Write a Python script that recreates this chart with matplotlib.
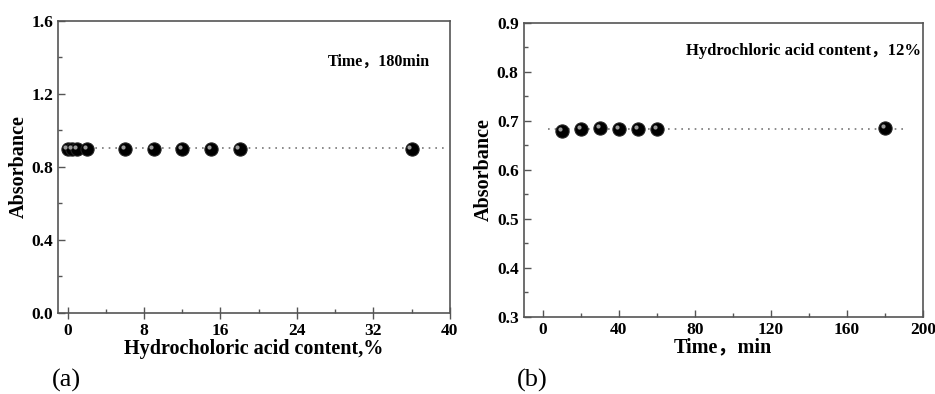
import matplotlib
matplotlib.use("Agg")
import matplotlib.pyplot as plt
import matplotlib.transforms as mtransforms
import numpy as np

# (a) absorbance vs HCl content, time 180 min
hcl_content = [0, 0.5, 1, 2, 6, 9, 12, 15, 18, 36]
absorb_a = [0.90, 0.90, 0.90, 0.90, 0.90, 0.90, 0.90, 0.90, 0.90, 0.90]
ref_a = 0.905
xticks_a = [0, 8, 16, 24, 32, 40]
yticks_a = [0.0, 0.4, 0.8, 1.2, 1.6]

# (b) absorbance vs time, HCl content 12%
time_min = [10, 20, 30, 40, 50, 60, 180]
absorb_b = [0.680, 0.684, 0.685, 0.684, 0.684, 0.684, 0.685]
ref_b = 0.684
xticks_b = [0, 40, 80, 120, 160, 200]
yticks_b = [0.3, 0.4, 0.5, 0.6, 0.7, 0.8, 0.9]

serif = ['Liberation Serif', 'Noto Sans CJK SC']
plt.rcParams['font.family'] = serif
plt.rcParams['font.weight'] = 'bold'

fig = plt.figure(figsize=(9.35, 3.94), dpi=100)
ax1 = fig.add_axes([0.062, 0.206, 0.419, 0.741])
ax2 = fig.add_axes([0.560, 0.196, 0.427, 0.746])


def spheres(ax, x, y):
    ax.plot(x, y, 'o', ms=9.5, mfc='black', mec='#222222', mew=0.8, zorder=3)
    off = mtransforms.ScaledTranslation(-1.5 / 72, 1.5 / 72, fig.dpi_scale_trans)
    ax.plot(x, y, 'o', ms=3, mfc='#9a9a9a', mec='none', zorder=4,
            transform=ax.transData + off)


def style(ax):
    for s in ax.spines.values():
        s.set_color('#555555')
        s.set_linewidth(1.2)
    ax.tick_params(which='both', direction='in', colors='#555555',
                   labelcolor='black', labelsize=12.5)
    ax.tick_params(which='major', length=5, width=1)
    ax.tick_params(which='minor', length=3, width=1)


# panel a
ax1.axhline(ref_a, xmin=0.01, xmax=0.985, color='#777777', ls=(0, (1, 3)), lw=1.2)
spheres(ax1, hcl_content, absorb_a)
ax1.set_xlim(-1, 40)
ax1.set_ylim(0.0, 1.6)
ax1.set_xticks(xticks_a)
ax1.set_yticks(yticks_a)
ax1.set_yticklabels([f'{v:.1f}' for v in yticks_a])
ax1.set_xticks(np.array(xticks_a[:-1]) + 4, minor=True)
ax1.set_yticks(np.array(yticks_a[:-1]) + 0.2, minor=True)
style(ax1)
ax1.tick_params(axis='x', which='major', direction='inout', length=8)
ax1.set_xlabel('Hydrocholoric acid content,%', fontsize=14.5, fontweight='bold', labelpad=0)
ax1.set_ylabel('Absorbance', fontsize=14.5, fontweight='bold', labelpad=2)
ax1.text(0.95, 0.86, 'Time，180min', transform=ax1.transAxes, ha='right', va='center',
         fontsize=11.5, fontweight='bold', family=serif)

# panel b
ax2.axhline(ref_b, xmin=0.06, xmax=0.953, color='#777777', ls=(0, (1, 3)), lw=1.2)
spheres(ax2, time_min, absorb_b)
ax2.set_xlim(-10, 200)
ax2.set_ylim(0.3, 0.9)
ax2.set_xticks(xticks_b)
ax2.set_yticks(yticks_b)
ax2.set_yticklabels([f'{v:.1f}' for v in yticks_b])
ax2.set_xticks(np.array(xticks_b[:-1]) + 20, minor=True)
ax2.set_yticks(np.array(yticks_b[:-1]) + 0.05, minor=True)
style(ax2)
ax2.set_xlabel('Time，min', fontsize=14.5, fontweight='bold', labelpad=0)
ax2.set_ylabel('Absorbance', fontsize=14.5, fontweight='bold', labelpad=2)
ax2.text(0.995, 0.905, 'Hydrochloric acid content，12%', transform=ax2.transAxes,
         ha='right', va='center', fontsize=12, fontweight='bold', family=serif)

fig.text(0.056, 0.02, '(a)', fontsize=19, fontweight='normal', family=serif)
fig.text(0.553, 0.02, '(b)', fontsize=19, fontweight='normal', family=serif)

fig.savefig('out.png', dpi=100)
